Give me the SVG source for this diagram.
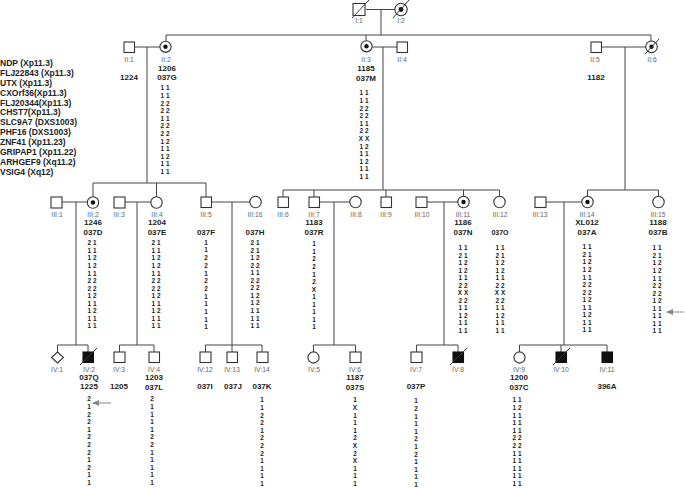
<svg xmlns="http://www.w3.org/2000/svg" width="685" height="488" viewBox="0 0 685 488">
<style>
.sym{fill:#fff;stroke:#333;stroke-width:1.1}
.aff{fill:#111;stroke:#111;stroke-width:1.1}
.dot{fill:#111}
.sl{stroke:#333;stroke-width:1}
.ln{stroke:#444;stroke-width:1;fill:none}
.id{font-family:"Liberation Sans",Arial,sans-serif;font-size:6.8px;fill:#666;text-anchor:middle}
.nm{font-family:"Liberation Sans",Arial,sans-serif;font-size:8px;font-weight:bold;fill:#222;text-anchor:middle}
.al{font-family:"Liberation Sans",Arial,sans-serif;font-size:6.4px;font-weight:bold;fill:#222;text-anchor:middle}
.mk{font-family:"Liberation Sans",Arial,sans-serif;font-size:8.5px;font-weight:bold;fill:#222}
.ar{stroke:#888;stroke-width:1}
</style>
<defs>
<marker id="ah" markerWidth="7" markerHeight="6" refX="6" refY="3" orient="auto" markerUnits="userSpaceOnUse"><path d="M0,0 L7,3 L0,6 z" fill="#888"/></marker>
</defs>
<rect width="685" height="488" fill="#fff"/>

<g id="connectors">
<path class="ln" d="M366,9.5 H395 M381,9.5 V35 M166,35 H651 M166,35 V41 M366,35 V41 M651,35 V41"/>
<path class="ln" d="M134,47 H160 M147,47 V183 M93,183 H206 M93,183 V197 M156.5,183 V197 M206,183 V197"/>
<path class="ln" d="M372,47 H397 M383,47 V190 M283,190 H499.5 M283,190 V197 M314,190 V197 M386,190 V197 M463.5,190 V197 M499.5,190 V197"/>
<path class="ln" d="M601,47 H645.5 M625,47 V190 M587.5,190 H658.5 M587.5,190 V196.5 M658.5,190 V196.5"/>
<path class="ln" d="M62,202 H87.5 M76,202 V345 M57.5,345 H88 M57.5,345 V352 M88,345 V352"/>
<path class="ln" d="M125,202 H151 M137,202 V345 M119.5,345 H154 M119.5,345 V352 M154,345 V352"/>
<path class="ln" d="M211,202 H250 M232,202 V352 M205.5,345 H262 M205.5,345 V352 M262,345 V352"/>
<path class="ln" d="M319,202 H350 M334,202 V345 M313.5,345 H355.5 M313.5,345 V352 M355.5,345 V352"/>
<path class="ln" d="M427,202 H458 M444,202 V345 M416.5,345 H458 M416.5,345 V352 M458,345 V352"/>
<path class="ln" d="M546,202 H582 M564,202 V345 M519.5,345 H607 M519.5,345 V352 M561,345 V352 M607,345 V352"/>
</g>

<g id="markers">
<text class="mk" x="0" y="65.7">NDP (Xp11.3)</text>
<text class="mk" x="0" y="75.7">FLJ22843 (Xp11.3)</text>
<text class="mk" x="0" y="85.6">UTX (Xp11.3)</text>
<text class="mk" x="0" y="95.6">CXOrf36(Xp11.3)</text>
<text class="mk" x="0" y="105.5">FLJ20344(Xp11.3)</text>
<text class="mk" x="0" y="115.4">CHST7(Xp11.3)</text>
<text class="mk" x="0" y="125.4">SLC9A7 (DXS1003)</text>
<text class="mk" x="0" y="135.4">PHF16 (DXS1003)</text>
<text class="mk" x="0" y="145.4">ZNF41 (Xp11.23)</text>
<text class="mk" x="0" y="155.3">GRIPAP1 (Xp11.22)</text>
<text class="mk" x="0" y="165.3">ARHGEF9 (Xq11.2)</text>
<text class="mk" x="0" y="175.2">VSIG4 (Xq12)</text>
</g>

<!-- Generation I -->
<g id="I-1"><rect class="sym" x="353" y="3.5" width="12" height="12"/><line class="sl" x1="352" y1="18" x2="369" y2="0"/><text class="id" x="359" y="22.5">I:1</text></g>
<g id="I-2"><circle class="sym" cx="401" cy="9.5" r="6.2"/><circle class="dot" cx="401" cy="9.5" r="2.4"/><line class="sl" x1="393" y1="18" x2="409" y2="0"/><text class="id" x="401" y="22.5">I:2</text></g>

<!-- Generation II -->
<g id="II-1"><rect class="sym" x="124" y="42" width="10.5" height="10.5"/><text class="id" x="129" y="61.5">II:1</text><text class="nm" x="129" y="80">1224</text></g>
<g id="II-2"><circle class="sym" cx="165.5" cy="46.8" r="5.6"/><circle class="dot" cx="165.5" cy="46.8" r="2.2"/><text class="id" x="166" y="61.5">II:2</text><text class="nm" x="167" y="71">1206</text><text class="nm" x="167" y="80">037G</text>
<text class="al" x="165" y="90.3"><tspan x="165">1 1</tspan><tspan x="165" dy="7.6">1 1</tspan><tspan x="165" dy="7.6">2 2</tspan><tspan x="165" dy="7.6">2 2</tspan><tspan x="165" dy="7.6">1 1</tspan><tspan x="165" dy="7.6">2 2</tspan><tspan x="165" dy="7.6">2 2</tspan><tspan x="165" dy="7.6">1 2</tspan><tspan x="165" dy="7.6">1 1</tspan><tspan x="165" dy="7.6">1 2</tspan><tspan x="165" dy="7.6">1 1</tspan><tspan x="165" dy="7.6">1 1</tspan></text></g>
<g id="II-3"><circle class="sym" cx="366.5" cy="46.3" r="5.6"/><circle class="dot" cx="366.5" cy="46.3" r="2.2"/><text class="id" x="366" y="61.5">II:3</text><text class="nm" x="366" y="71">1185</text><text class="nm" x="366" y="80.5">037M</text>
<text class="al" x="364" y="95.3"><tspan x="364">1 1</tspan><tspan x="364" dy="7.6">1 1</tspan><tspan x="364" dy="7.6">2 2</tspan><tspan x="364" dy="7.6">2 2</tspan><tspan x="364" dy="7.6">1 1</tspan><tspan x="364" dy="7.6">2 2</tspan><tspan x="364" dy="7.6">X X</tspan><tspan x="364" dy="7.6">1 2</tspan><tspan x="364" dy="7.6">1 1</tspan><tspan x="364" dy="7.6">1 2</tspan><tspan x="364" dy="7.6">1 1</tspan><tspan x="364" dy="7.6">1 1</tspan></text></g>
<g id="II-4"><rect class="sym" x="397" y="42" width="10.5" height="10.5"/><text class="id" x="402" y="61.5">II:4</text></g>
<g id="II-5"><rect class="sym" x="591" y="42" width="10.5" height="10.5"/><text class="id" x="595" y="61.5">II:5</text><text class="nm" x="596" y="80">1182</text></g>
<g id="II-6"><circle class="sym" cx="651.5" cy="46.8" r="5.8"/><circle class="dot" cx="651.5" cy="46.8" r="2.2"/><line class="sl" x1="645" y1="54" x2="659" y2="39"/><text class="id" x="652" y="61.5">II:6</text></g>

<!-- Generation III -->
<g id="III-1"><rect class="sym" x="51" y="197" width="11" height="11"/><text class="id" x="57" y="216.5">III:1</text></g>
<g id="III-2"><circle class="sym" cx="93" cy="202.5" r="5.7"/><circle class="dot" cx="93" cy="202.5" r="2.2"/><text class="id" x="93" y="216.5">III:2</text><text class="nm" x="93" y="225">1246</text><text class="nm" x="93" y="235">037D</text>
<text class="al" x="92" y="245.3"><tspan x="92">2 1</tspan><tspan x="92" dy="7.55">1 1</tspan><tspan x="92" dy="7.55">1 2</tspan><tspan x="92" dy="7.55">1 2</tspan><tspan x="92" dy="7.55">1 1</tspan><tspan x="92" dy="7.55">2 2</tspan><tspan x="92" dy="7.55">2 2</tspan><tspan x="92" dy="7.55">1 2</tspan><tspan x="92" dy="7.55">1 1</tspan><tspan x="92" dy="7.55">1 2</tspan><tspan x="92" dy="7.55">1 1</tspan><tspan x="92" dy="7.55">1 1</tspan></text></g>
<g id="III-3"><rect class="sym" x="114" y="197" width="11" height="11"/><text class="id" x="119" y="216.5">III:3</text></g>
<g id="III-4"><circle class="sym" cx="156.5" cy="202.5" r="5.7"/><text class="id" x="157" y="216.5">III:4</text><text class="nm" x="157" y="225">1204</text><text class="nm" x="157" y="235">037E</text>
<text class="al" x="156" y="245.3"><tspan x="156">2 1</tspan><tspan x="156" dy="7.55">1 1</tspan><tspan x="156" dy="7.55">1 2</tspan><tspan x="156" dy="7.55">1 2</tspan><tspan x="156" dy="7.55">1 1</tspan><tspan x="156" dy="7.55">2 2</tspan><tspan x="156" dy="7.55">2 2</tspan><tspan x="156" dy="7.55">1 2</tspan><tspan x="156" dy="7.55">1 1</tspan><tspan x="156" dy="7.55">1 2</tspan><tspan x="156" dy="7.55">1 1</tspan><tspan x="156" dy="7.55">1 1</tspan></text></g>
<g id="III-5"><rect class="sym" x="201" y="197" width="10.5" height="10.5"/><text class="id" x="206" y="216.5">III:5</text><text class="nm" x="206" y="235">037F</text>
<text class="al" x="206" y="244.7"><tspan x="206">1</tspan><tspan x="206" dy="7.7">1</tspan><tspan x="206" dy="7.7">2</tspan><tspan x="206" dy="7.7">2</tspan><tspan x="206" dy="7.7">1</tspan><tspan x="206" dy="7.7">2</tspan><tspan x="206" dy="7.7">2</tspan><tspan x="206" dy="7.7">1</tspan><tspan x="206" dy="7.7">1</tspan><tspan x="206" dy="7.7">1</tspan><tspan x="206" dy="7.7">1</tspan><tspan x="206" dy="7.7">1</tspan></text></g>
<g id="III-16"><circle class="sym" cx="255.5" cy="202" r="5.7"/><text class="id" x="255" y="216.5">III:16</text><text class="nm" x="255" y="235">037H</text>
<text class="al" x="255" y="245"><tspan x="255">2 1</tspan><tspan x="255" dy="7.55">2 1</tspan><tspan x="255" dy="7.55">1 2</tspan><tspan x="255" dy="7.55">2 2</tspan><tspan x="255" dy="7.55">1 1</tspan><tspan x="255" dy="7.55">2 2</tspan><tspan x="255" dy="7.55">2 2</tspan><tspan x="255" dy="7.55">1 2</tspan><tspan x="255" dy="7.55">1 2</tspan><tspan x="255" dy="7.55">1 1</tspan><tspan x="255" dy="7.55">1 1</tspan><tspan x="255" dy="7.55">1 1</tspan></text></g>
<g id="III-6"><rect class="sym" x="278" y="197" width="10.5" height="10.5"/><text class="id" x="283" y="216.5">III:6</text></g>
<g id="III-7"><rect class="sym" x="309" y="197" width="10.5" height="10.5"/><text class="id" x="314" y="216.5">III:7</text><text class="nm" x="314" y="225">1183</text><text class="nm" x="314" y="235">037R</text>
<text class="al" x="314" y="246.3"><tspan x="314">1</tspan><tspan x="314" dy="7.55">1</tspan><tspan x="314" dy="7.55">2</tspan><tspan x="314" dy="7.55">2</tspan><tspan x="314" dy="7.55">1</tspan><tspan x="314" dy="7.55">2</tspan><tspan x="314" dy="7.55">X</tspan><tspan x="314" dy="7.55">1</tspan><tspan x="314" dy="7.55">1</tspan><tspan x="314" dy="7.55">1</tspan><tspan x="314" dy="7.55">1</tspan><tspan x="314" dy="7.55">1</tspan></text></g>
<g id="III-8"><circle class="sym" cx="355.5" cy="202" r="5.7"/><text class="id" x="356" y="216.5">III:8</text></g>
<g id="III-9"><rect class="sym" x="381" y="197" width="10.5" height="10.5"/><text class="id" x="386" y="216.5">III:9</text></g>
<g id="III-10"><rect class="sym" x="416" y="197" width="11" height="10.5"/><text class="id" x="422" y="216.5">III:10</text></g>
<g id="III-11"><circle class="sym" cx="463.5" cy="202" r="5.7"/><circle class="dot" cx="463.5" cy="202" r="2.2"/><text class="id" x="463" y="216.5">III:11</text><text class="nm" x="463" y="225">1186</text><text class="nm" x="463" y="235">037N</text>
<text class="al" x="463" y="250.3"><tspan x="463">1 1</tspan><tspan x="463" dy="7.5">2 1</tspan><tspan x="463" dy="7.5">1 2</tspan><tspan x="463" dy="7.5">1 2</tspan><tspan x="463" dy="7.5">1 1</tspan><tspan x="463" dy="7.5">2 2</tspan><tspan x="463" dy="7.5">X X</tspan><tspan x="463" dy="7.5">2 2</tspan><tspan x="463" dy="7.5">1 1</tspan><tspan x="463" dy="7.5">1 2</tspan><tspan x="463" dy="7.5">1 1</tspan><tspan x="463" dy="7.5">1 1</tspan></text></g>
<g id="III-12"><circle class="sym" cx="499.5" cy="202" r="5.7"/><text class="id" x="500" y="216.5">III:12</text><text class="nm" x="500" y="235" style="font-size:7px">037O</text>
<text class="al" x="500" y="250.3"><tspan x="500">1 1</tspan><tspan x="500" dy="7.5">2 1</tspan><tspan x="500" dy="7.5">1 2</tspan><tspan x="500" dy="7.5">1 2</tspan><tspan x="500" dy="7.5">1 1</tspan><tspan x="500" dy="7.5">2 2</tspan><tspan x="500" dy="7.5">X X</tspan><tspan x="500" dy="7.5">2 2</tspan><tspan x="500" dy="7.5">1 1</tspan><tspan x="500" dy="7.5">1 2</tspan><tspan x="500" dy="7.5">1 1</tspan><tspan x="500" dy="7.5">1 1</tspan></text></g>
<g id="III-13"><rect class="sym" x="535" y="197" width="11" height="10.5"/><text class="id" x="540" y="216.5">III:13</text></g>
<g id="III-14"><circle class="sym" cx="587.5" cy="202" r="5.7"/><circle class="dot" cx="587.5" cy="202" r="2.2"/><text class="id" x="587" y="216.5">III:14</text><text class="nm" x="587" y="225">XL012</text><text class="nm" x="587" y="235">037A</text>
<text class="al" x="587" y="249.3"><tspan x="587">1 1</tspan><tspan x="587" dy="7.55">2 1</tspan><tspan x="587" dy="7.55">1 2</tspan><tspan x="587" dy="7.55">1 2</tspan><tspan x="587" dy="7.55">1 1</tspan><tspan x="587" dy="7.55">2 2</tspan><tspan x="587" dy="7.55">2 2</tspan><tspan x="587" dy="7.55">1 2</tspan><tspan x="587" dy="7.55">1 1</tspan><tspan x="587" dy="7.55">1 2</tspan><tspan x="587" dy="7.55">1 1</tspan><tspan x="587" dy="7.55">1 1</tspan></text></g>
<g id="III-15"><circle class="sym" cx="658.5" cy="202" r="5.7"/><text class="id" x="658" y="216.5">III:15</text><text class="nm" x="658" y="225">1188</text><text class="nm" x="658" y="235">037B</text>
<text class="al" x="657" y="250.3"><tspan x="657">1 1</tspan><tspan x="657" dy="7.55">2 1</tspan><tspan x="657" dy="7.55">1 2</tspan><tspan x="657" dy="7.55">1 2</tspan><tspan x="657" dy="7.55">1 1</tspan><tspan x="657" dy="7.55">2 2</tspan><tspan x="657" dy="7.55">2 2</tspan><tspan x="657" dy="7.55">1 2</tspan><tspan x="657" dy="7.55">1 1</tspan><tspan x="657" dy="7.55">1 1</tspan><tspan x="657" dy="7.55">1 1</tspan><tspan x="657" dy="7.55">1 1</tspan></text>
<line class="ar" x1="684" y1="312" x2="667" y2="312" marker-end="url(#ah)"/></g>

<!-- Generation IV -->
<g id="IV-1"><path class="sym" d="M57.5,352 L63.5,357.5 L57.5,363 L51.5,357.5 z"/><text class="id" x="57" y="371.5">IV:1</text></g>
<g id="IV-2"><rect class="aff" x="83" y="352" width="10.5" height="10.5"/><line class="sl" x1="80" y1="365" x2="97" y2="348"/><text class="id" x="89" y="371.5">IV:2</text><text class="nm" x="89" y="380">037Q</text><text class="nm" x="89" y="389">1225</text>
<text class="al" x="89" y="401.3"><tspan x="89">2</tspan><tspan x="89" dy="7.6">1</tspan><tspan x="89" dy="7.6">2</tspan><tspan x="89" dy="7.6">2</tspan><tspan x="89" dy="7.6">1</tspan><tspan x="89" dy="7.6">2</tspan><tspan x="89" dy="7.6">2</tspan><tspan x="89" dy="7.6">2</tspan><tspan x="89" dy="7.6">1</tspan><tspan x="89" dy="7.6">2</tspan><tspan x="89" dy="7.6">1</tspan><tspan x="89" dy="7.6">1</tspan></text>
<line class="ar" x1="111" y1="403" x2="93" y2="403" marker-end="url(#ah)"/></g>
<g id="IV-3"><rect class="sym" x="114" y="352" width="11" height="10.5"/><text class="id" x="119" y="371.5">IV:3</text><text class="nm" x="119" y="389">1205</text></g>
<g id="IV-4"><rect class="sym" x="149" y="352" width="10.5" height="10.5"/><text class="id" x="154" y="371.5">IV:4</text><text class="nm" x="154" y="380">1203</text><text class="nm" x="154" y="390">037L</text>
<text class="al" x="152" y="401.3"><tspan x="152">2</tspan><tspan x="152" dy="7.6">1</tspan><tspan x="152" dy="7.6">1</tspan><tspan x="152" dy="7.6">1</tspan><tspan x="152" dy="7.6">1</tspan><tspan x="152" dy="7.6">2</tspan><tspan x="152" dy="7.6">2</tspan><tspan x="152" dy="7.6">1</tspan><tspan x="152" dy="7.6">1</tspan><tspan x="152" dy="7.6">1</tspan><tspan x="152" dy="7.6">1</tspan><tspan x="152" dy="7.6">1</tspan></text></g>
<g id="IV-12"><rect class="sym" x="200" y="352" width="11" height="10.5"/><text class="id" x="205" y="371.5">IV:12</text><text class="nm" x="205" y="389">037I</text></g>
<g id="IV-13"><rect class="sym" x="227" y="352" width="10.5" height="10.5"/><text class="id" x="232" y="371.5">IV:13</text><text class="nm" x="233" y="389">037J</text></g>
<g id="IV-14"><rect class="sym" x="257" y="352" width="11" height="10.5"/><text class="id" x="262" y="371.5">IV:14</text><text class="nm" x="262" y="389">037K</text>
<text class="al" x="262" y="402.3"><tspan x="262">1</tspan><tspan x="262" dy="7.6">1</tspan><tspan x="262" dy="7.6">2</tspan><tspan x="262" dy="7.6">2</tspan><tspan x="262" dy="7.6">1</tspan><tspan x="262" dy="7.6">2</tspan><tspan x="262" dy="7.6">2</tspan><tspan x="262" dy="7.6">2</tspan><tspan x="262" dy="7.6">1</tspan><tspan x="262" dy="7.6">1</tspan><tspan x="262" dy="7.6">1</tspan><tspan x="262" dy="7.6">1</tspan></text></g>
<g id="IV-5"><circle class="sym" cx="313.5" cy="357.5" r="5.6"/><text class="id" x="314" y="371.5">IV:5</text></g>
<g id="IV-6"><rect class="sym" x="350" y="352" width="11" height="10.5"/><text class="id" x="355" y="371.5">IV:6</text><text class="nm" x="355" y="380">1187</text><text class="nm" x="355" y="390">037S</text>
<text class="al" x="355" y="402.3"><tspan x="355">1</tspan><tspan x="355" dy="7.6">X</tspan><tspan x="355" dy="7.6">1</tspan><tspan x="355" dy="7.6">1</tspan><tspan x="355" dy="7.6">1</tspan><tspan x="355" dy="7.6">2</tspan><tspan x="355" dy="7.6">X</tspan><tspan x="355" dy="7.6">2</tspan><tspan x="355" dy="7.6">X</tspan><tspan x="355" dy="7.6">1</tspan><tspan x="355" dy="7.6">1</tspan><tspan x="355" dy="7.6">1</tspan></text></g>
<g id="IV-7"><rect class="sym" x="411" y="352" width="11" height="10.5"/><text class="id" x="416" y="371.5">IV:7</text><text class="nm" x="416" y="389">037P</text>
<text class="al" x="416" y="403.3"><tspan x="416">1</tspan><tspan x="416" dy="7.6">2</tspan><tspan x="416" dy="7.6">1</tspan><tspan x="416" dy="7.6">1</tspan><tspan x="416" dy="7.6">1</tspan><tspan x="416" dy="7.6">2</tspan><tspan x="416" dy="7.6">1</tspan><tspan x="416" dy="7.6">2</tspan><tspan x="416" dy="7.6">1</tspan><tspan x="416" dy="7.6">1</tspan><tspan x="416" dy="7.6">1</tspan><tspan x="416" dy="7.6">1</tspan></text></g>
<g id="IV-8"><rect class="aff" x="453" y="352" width="10.5" height="10.5"/><line class="sl" x1="450" y1="365" x2="467" y2="348"/><text class="id" x="458" y="371.5">IV:8</text></g>
<g id="IV-9"><circle class="sym" cx="519.5" cy="357.5" r="5.6"/><text class="id" x="519" y="371.5">IV:9</text><text class="nm" x="519" y="380">1200</text><text class="nm" x="519" y="390">037C</text>
<text class="al" x="517" y="402.3"><tspan x="517">1 1</tspan><tspan x="517" dy="7.6">1 2</tspan><tspan x="517" dy="7.6">1 1</tspan><tspan x="517" dy="7.6">1 1</tspan><tspan x="517" dy="7.6">1 1</tspan><tspan x="517" dy="7.6">2 2</tspan><tspan x="517" dy="7.6">2 2</tspan><tspan x="517" dy="7.6">1 1</tspan><tspan x="517" dy="7.6">1 1</tspan><tspan x="517" dy="7.6">1 1</tspan><tspan x="517" dy="7.6">1 1</tspan><tspan x="517" dy="7.6">1 1</tspan></text></g>
<g id="IV-10"><rect class="aff" x="556" y="352" width="10.5" height="10.5"/><line class="sl" x1="553" y1="365" x2="570" y2="348"/><text class="id" x="561" y="371.5">IV:10</text></g>
<g id="IV-11"><rect class="aff" x="602" y="352" width="10.5" height="10.5"/><text class="id" x="607" y="371.5">IV:11</text><text class="nm" x="607" y="389">396A</text></g>
</svg>
